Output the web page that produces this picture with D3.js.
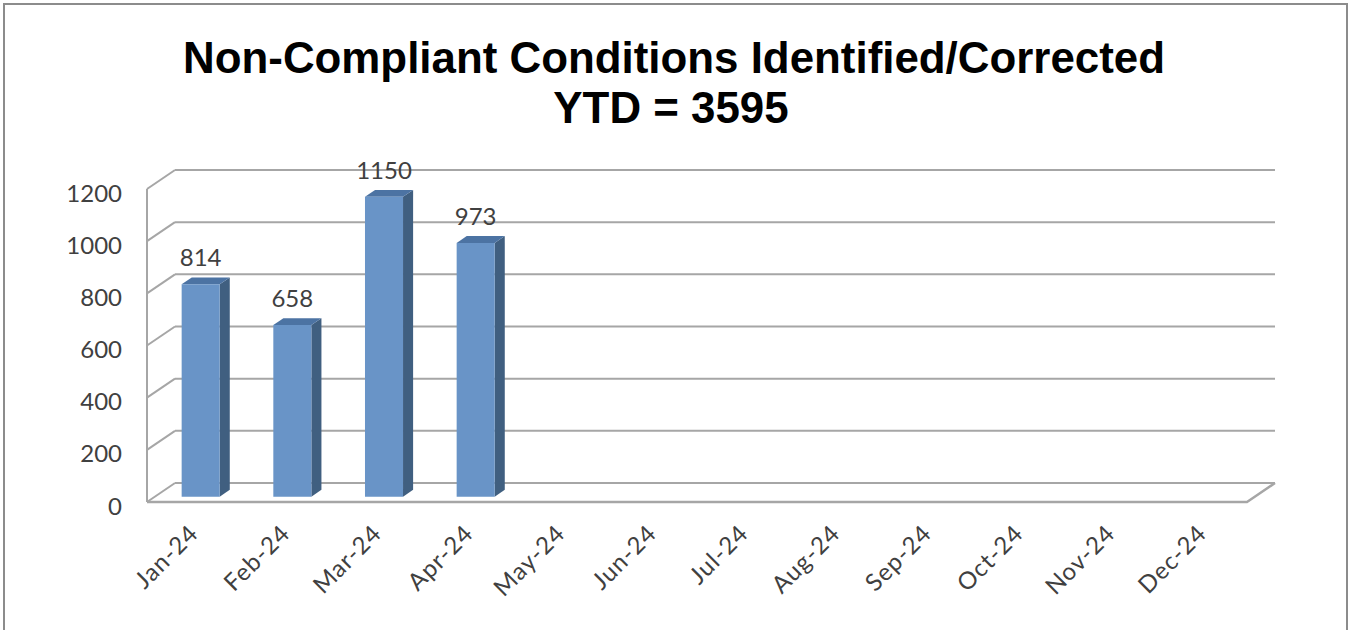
<!DOCTYPE html>
<html>
<head>
<meta charset="utf-8">
<script src="https://cdn.jsdelivr.net/npm/d3@7"></script>
<style>
  html, body { margin: 0; padding: 0; background: #ffffff; }
  svg { display: block; }
</style>
</head>
<body>
<svg id="chart" width="1351" height="630"></svg>
<script>
// ---- data ----
const titleLines = ["Non-Compliant Conditions Identified/Corrected", "YTD = 3595"];
const months = ["Jan-24","Feb-24","Mar-24","Apr-24","May-24","Jun-24","Jul-24","Aug-24","Sep-24","Oct-24","Nov-24","Dec-24"];
const values = [814, 658, 1150, 973, null, null, null, null, null, null, null, null];
const yTicks = [0, 200, 400, 600, 800, 1000, 1200];

// ---- layout ----
const svg = d3.select("#chart");
const W = 1351, H = 630;
const plot = { left: 147, right: 1247, bottom: 502, top: 189 };
const depth = { dx: 28, dy: -19 };
const barFront = 0.28, barBack = 0.64, barFrac = 0.415;
const labelFont = "Lato, 'Liberation Sans', sans-serif";
const textColor = "#404040";
const gridColor = "#a6a6a6";

const x = d3.scaleBand().domain(months).range([plot.left, plot.right]).paddingInner(0).paddingOuter(0);
const y = d3.scaleLinear().domain([0, 1200]).range([plot.bottom, plot.top]);
const P = (px, v, f) => [px + depth.dx * f, y(v) + depth.dy * f];

// outer border
svg.append("rect").attr("x", 4).attr("y", 4).attr("width", W - 8).attr("height", H + 20)
  .attr("fill", "#fff").attr("stroke", "#8c8c8c").attr("stroke-width", 2);

// back wall gridlines
const g = svg.append("g");
yTicks.forEach(t => {
  const a = P(plot.left, t, 1), b = P(plot.right, t, 1);
  g.append("line").attr("x1", a[0]).attr("y1", a[1]).attr("x2", b[0]).attr("y2", b[1])
    .attr("stroke", gridColor).attr("stroke-width", 2);
  const c = P(plot.left, t, 0);
  g.append("line").attr("x1", c[0]).attr("y1", c[1]).attr("x2", a[0]).attr("y2", a[1])
    .attr("stroke", gridColor).attr("stroke-width", 2);
});
// left front vertical
{
  const a = P(plot.left, 0, 0), b = P(plot.left, 1200, 0);
  g.append("line").attr("x1", a[0]).attr("y1", a[1]).attr("x2", b[0]).attr("y2", b[1])
    .attr("stroke", gridColor).attr("stroke-width", 2);
}
// floor
{
  const pts = [P(plot.left, 0, 0), P(plot.right, 0, 0), P(plot.right, 0, 1)];
  g.append("polyline").attr("points", pts.map(p => p.join(",")).join(" "))
    .attr("fill", "none").attr("stroke", gridColor).attr("stroke-width", 2.5).attr("stroke-linejoin", "round");
}

// y axis labels
svg.append("g").selectAll("text").data(yTicks).join("text")
  .attr("x", 122).attr("y", d => y(d) + 3)
  .attr("text-anchor", "end").attr("dominant-baseline", "central")
  .attr("font-family", labelFont).attr("font-size", 24).attr("fill", textColor)
  .text(d => d);

// bars
const bars = svg.append("g");
months.forEach((m, i) => {
  const v = values[i];
  if (v == null) return;
  const bw = x.bandwidth() * barFrac;
  const cx = x(m) + x.bandwidth() / 2;
  const x0 = cx - bw / 2, x1 = cx + bw / 2;
  const poly = (pts, fill) => bars.append("polygon")
    .attr("points", pts.map(p => p.join(",")).join(" ")).attr("fill", fill);
  poly([P(x1, 0, barFront), P(x1, 0, barBack), P(x1, v, barBack), P(x1, v, barFront)], "#405f80");
  poly([P(x0, v, barFront), P(x1, v, barFront), P(x1, v, barBack), P(x0, v, barBack)], "#4c73a3");
  poly([P(x0, 0, barFront), P(x1, 0, barFront), P(x1, v, barFront), P(x0, v, barFront)], "#6994c7");
  const top = P(cx, v, barFront);
  bars.append("text").attr("x", top[0]).attr("y", top[1] - 18)
    .attr("text-anchor", "middle").attr("font-family", labelFont).attr("font-size", 24)
    .attr("fill", textColor).text(v);
});

// x axis labels
svg.append("g").selectAll("text").data(months).join("text")
  .attr("transform", d => `translate(${x(d) + x.bandwidth() / 2 + 7},${535}) rotate(-45)`)
  .attr("text-anchor", "end")
  .attr("font-family", labelFont).attr("font-size", 24).attr("letter-spacing", 1)
  .attr("fill", textColor)
  .text(d => d);

// title
const tFont = "'Liberation Sans', Arial, sans-serif";
const t1 = svg.append("text").attr("x", 674).attr("y", 73).attr("text-anchor", "middle")
  .attr("font-family", tFont).attr("font-weight", "bold").attr("font-size", 40).attr("fill", "#000")
  .text(titleLines[0]);
const len = t1.node().getComputedTextLength();
const fs = 40 * 982 / len;
t1.attr("font-size", fs);
svg.append("text").attr("x", 671).attr("y", 123).attr("text-anchor", "middle")
  .attr("font-family", tFont).attr("font-weight", "bold").attr("font-size", fs).attr("fill", "#000")
  .text(titleLines[1]);
</script>
</body>
</html>
